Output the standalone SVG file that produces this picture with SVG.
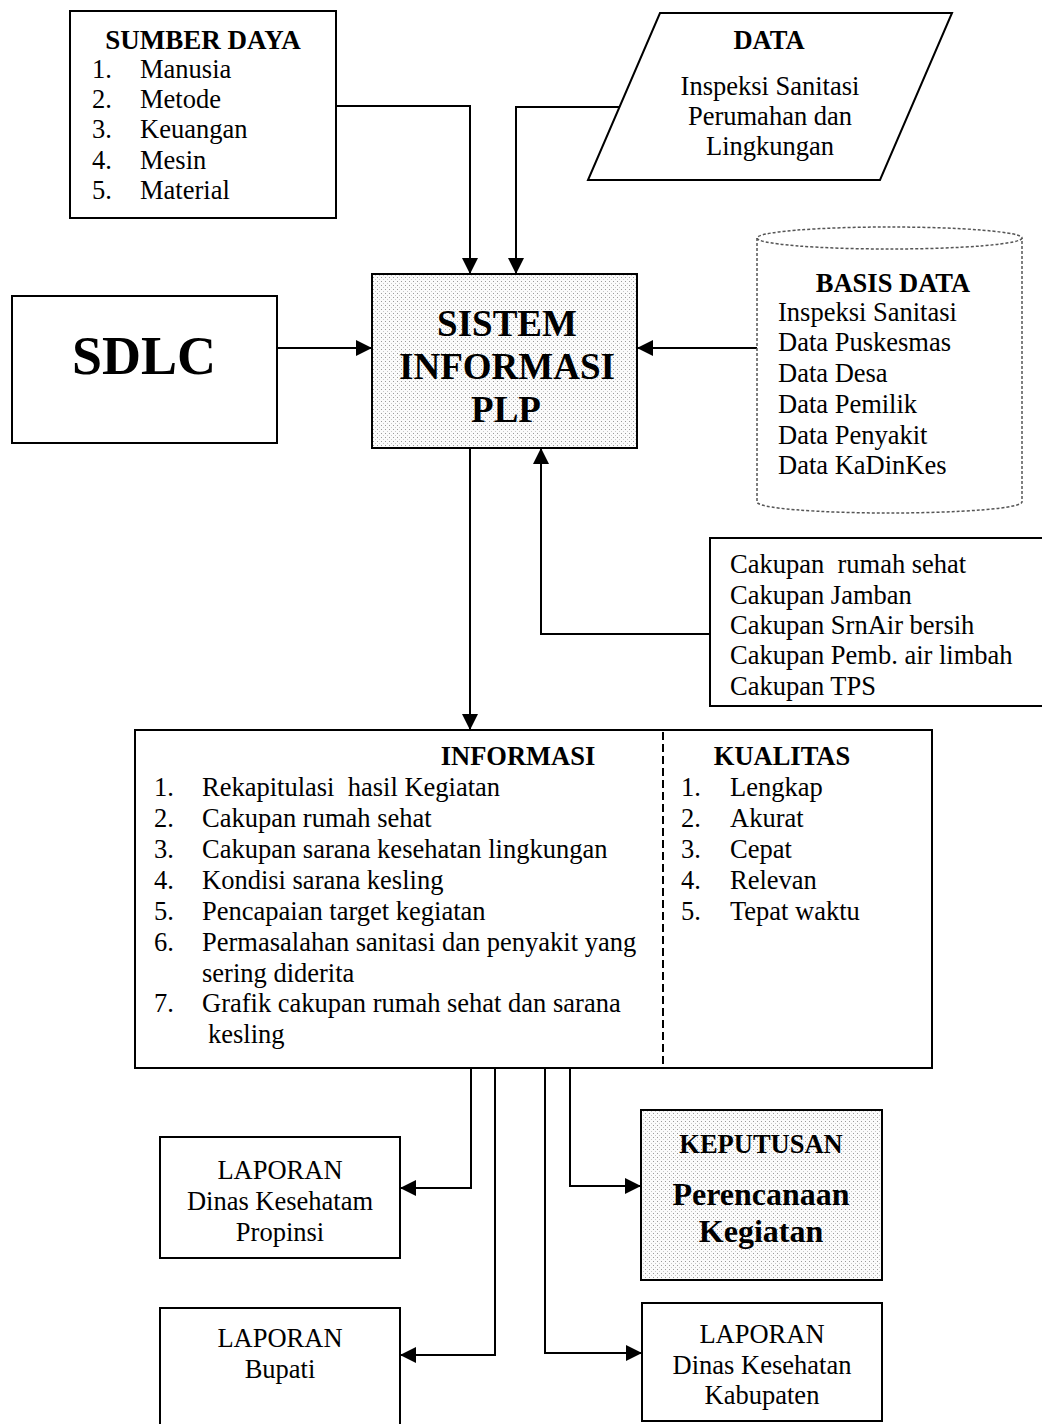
<svg xmlns="http://www.w3.org/2000/svg" width="1042" height="1424" viewBox="0 0 1042 1424">
  <style>
    text { font-family: "Liberation Serif", "Times New Roman", serif; fill: #000; }
    .t { font-size: 26.5px; }
    .b { font-size: 26.5px; font-weight: bold; }
    .c { text-anchor: middle; }
    .box { fill: #fff; stroke: #000; stroke-width: 2; }
    .shade { fill: url(#halftone); stroke: #000; stroke-width: 2; }
    .wire { fill: none; stroke: #000; stroke-width: 2; }
  </style>
  <defs>
    <pattern id="halftone" width="4" height="4" patternUnits="userSpaceOnUse">
      <rect width="4" height="4" fill="#fbfbfb"/>
      <rect x="1" y="1" width="1" height="1" fill="#9a9a9a"/>
      <rect x="3" y="3" width="1" height="1" fill="#c8c8c8"/>
    </pattern>
    <marker id="arrow" viewBox="0 0 16 16" refX="16" refY="8" markerWidth="16" markerHeight="16" markerUnits="userSpaceOnUse" orient="auto">
      <path d="M0,0 L16,8 L0,16 z" fill="#000"/>
    </marker>
  </defs>

  <rect width="1042" height="1424" fill="#fff"/>

  <!-- connectors -->
  <g id="connectors">
    <path class="wire" d="M336,106 H470 V274" marker-end="url(#arrow)"/>
    <path class="wire" d="M619,107 H516 V274" marker-end="url(#arrow)"/>
    <path class="wire" d="M277,348 H372" marker-end="url(#arrow)"/>
    <path class="wire" d="M757,348 H637" marker-end="url(#arrow)"/>
    <path class="wire" d="M710,634 H541 V448" marker-end="url(#arrow)"/>
    <path class="wire" d="M470,448 V730" marker-end="url(#arrow)"/>
    <path class="wire" d="M471,1068 V1188 H400" marker-end="url(#arrow)"/>
    <path class="wire" d="M495,1068 V1355 H400" marker-end="url(#arrow)"/>
    <path class="wire" d="M545,1068 V1353 H642" marker-end="url(#arrow)"/>
    <path class="wire" d="M570,1068 V1186 H641" marker-end="url(#arrow)"/>
  </g>

  <!-- resources -->
  <g id="sumber-daya">
    <rect class="box" x="70" y="11" width="266" height="207"/>
    <text class="b c" x="203" y="49" style="font-size:27px">SUMBER DAYA</text>
    <text class="t" x="92" y="78">1.</text><text class="t" x="140" y="78">Manusia</text>
    <text class="t" x="92" y="108">2.</text><text class="t" x="140" y="108">Metode</text>
    <text class="t" x="92" y="138">3.</text><text class="t" x="140" y="138">Keuangan</text>
    <text class="t" x="92" y="169">4.</text><text class="t" x="140" y="169">Mesin</text>
    <text class="t" x="92" y="199">5.</text><text class="t" x="140" y="199">Material</text>
  </g>

  <!-- input data -->
  <g id="data">
    <polygon class="box" points="660,13 952,13 880,180 588,180"/>
    <text class="b c" x="769" y="49">DATA</text>
    <text class="t c" x="770" y="95">Inspeksi Sanitasi</text>
    <text class="t c" x="770" y="125">Perumahan dan</text>
    <text class="t c" x="770" y="155">Lingkungan</text>
  </g>

  <g id="sdlc">
    <rect class="box" x="12" y="296" width="265" height="147"/>
    <text class="c" x="144" y="374" style="font-size:54px;font-weight:bold">SDLC</text>
  </g>

  <g id="sistem-informasi">
    <rect class="shade" x="372" y="274" width="265" height="174"/>
    <text class="c" x="507" y="336" style="font-size:37px;font-weight:bold">SISTEM</text>
    <text class="c" x="507" y="379" style="font-size:37px;font-weight:bold">INFORMASI</text>
    <text class="c" x="506" y="422" style="font-size:37px;font-weight:bold">PLP</text>
  </g>

  <!-- database cylinder -->
  <g id="basis-data">
    <path d="M757,238 V502 A132.5,11 0 0 0 1022,502 V238" fill="#fff" stroke="#555" stroke-width="1.5" stroke-dasharray="3,2"/>
    <ellipse cx="889.5" cy="238" rx="132.5" ry="11" fill="#fff" stroke="#555" stroke-width="1.5" stroke-dasharray="3,2"/>
    <text class="b c" x="893" y="292">BASIS DATA</text>
    <text class="t" x="778" y="321">Inspeksi Sanitasi</text>
    <text class="t" x="778" y="351">Data Puskesmas</text>
    <text class="t" x="778" y="382">Data Desa</text>
    <text class="t" x="778" y="413">Data Pemilik</text>
    <text class="t" x="778" y="444">Data Penyakit</text>
    <text class="t" x="778" y="474">Data KaDinKes</text>
  </g>

  <g id="cakupan">
    <rect class="box" x="710" y="538" width="340" height="168"/>
    <text class="t" x="730" y="573" xml:space="preserve">Cakupan  rumah sehat</text>
    <text class="t" x="730" y="604">Cakupan Jamban</text>
    <text class="t" x="730" y="634">Cakupan SrnAir bersih</text>
    <text class="t" x="730" y="664">Cakupan Pemb. air limbah</text>
    <text class="t" x="730" y="695">Cakupan TPS</text>
  </g>

  <!-- information output and quality -->
  <g id="informasi">
    <rect class="box" x="135" y="730" width="797" height="338"/>
    <line x1="663" y1="732" x2="663" y2="1066" stroke="#000" stroke-width="2" stroke-dasharray="8,4"/>
    <text class="b c" x="518" y="765">INFORMASI</text>
    <text class="t" x="154" y="796">1.</text><text class="t" x="202" y="796" xml:space="preserve">Rekapitulasi  hasil Kegiatan</text>
    <text class="t" x="154" y="827">2.</text><text class="t" x="202" y="827">Cakupan rumah sehat</text>
    <text class="t" x="154" y="858">3.</text><text class="t" x="202" y="858">Cakupan sarana kesehatan lingkungan</text>
    <text class="t" x="154" y="889">4.</text><text class="t" x="202" y="889">Kondisi sarana kesling</text>
    <text class="t" x="154" y="920">5.</text><text class="t" x="202" y="920">Pencapaian target kegiatan</text>
    <text class="t" x="154" y="951">6.</text><text class="t" x="202" y="951">Permasalahan sanitasi dan penyakit yang</text>
    <text class="t" x="202" y="982">sering diderita</text>
    <text class="t" x="154" y="1012">7.</text><text class="t" x="202" y="1012">Grafik cakupan rumah sehat dan sarana</text>
    <text class="t" x="208" y="1043">kesling</text>
  </g>
  <g id="kualitas">
    <text class="b c" x="782" y="765">KUALITAS</text>
    <text class="t" x="681" y="796">1.</text><text class="t" x="730" y="796">Lengkap</text>
    <text class="t" x="681" y="827">2.</text><text class="t" x="730" y="827">Akurat</text>
    <text class="t" x="681" y="858">3.</text><text class="t" x="730" y="858">Cepat</text>
    <text class="t" x="681" y="889">4.</text><text class="t" x="730" y="889">Relevan</text>
    <text class="t" x="681" y="920">5.</text><text class="t" x="730" y="920">Tepat waktu</text>
  </g>

  <!-- reports and decision -->
  <g id="laporan-propinsi">
    <rect class="box" x="160" y="1137" width="240" height="121"/>
    <text class="t c" x="280" y="1179">LAPORAN</text>
    <text class="t c" x="280" y="1210">Dinas Kesehatam</text>
    <text class="t c" x="280" y="1241">Propinsi</text>
  </g>

  <g id="keputusan">
    <rect class="shade" x="641" y="1110" width="241" height="170"/>
    <text class="b c" x="761" y="1153">KEPUTUSAN</text>
    <text class="c" x="761" y="1205" style="font-size:32px;font-weight:bold">Perencanaan</text>
    <text class="c" x="761" y="1242" style="font-size:32px;font-weight:bold">Kegiatan</text>
  </g>

  <g id="laporan-bupati">
    <rect class="box" x="160" y="1308" width="240" height="130"/>
    <text class="t c" x="280" y="1347">LAPORAN</text>
    <text class="t c" x="280" y="1378">Bupati</text>
  </g>

  <g id="laporan-kabupaten">
    <rect class="box" x="642" y="1303" width="240" height="118"/>
    <text class="t c" x="762" y="1343">LAPORAN</text>
    <text class="t c" x="762" y="1374">Dinas Kesehatan</text>
    <text class="t c" x="762" y="1404">Kabupaten</text>
  </g>
</svg>
